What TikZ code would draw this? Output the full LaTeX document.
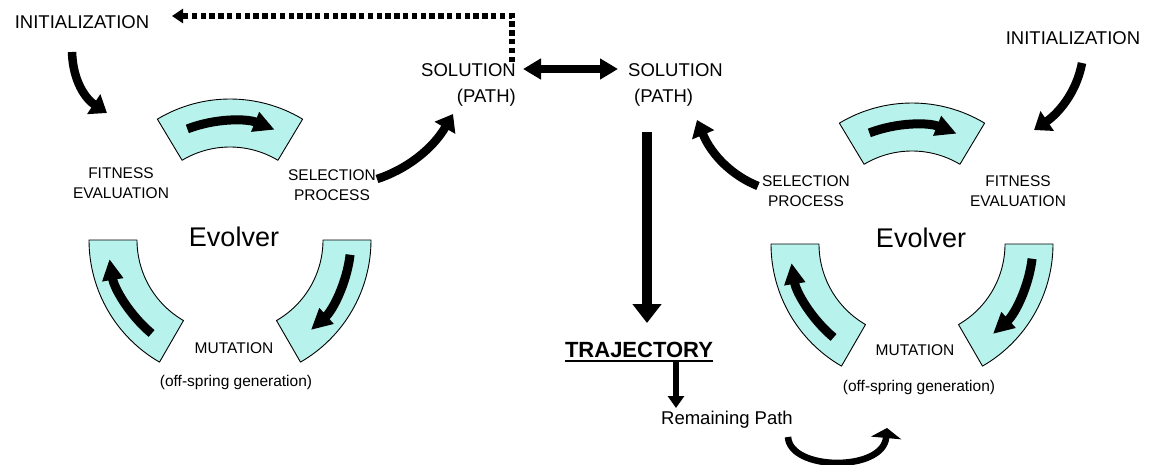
\documentclass[tikz,border=0pt]{standalone}
\usepackage{fontspec}
\setmainfont{Liberation Sans}
\usetikzlibrary{arrows.meta,calc}
\definecolor{segfill}{RGB}{183,243,236}
\newcommand\evoseg[3]{\draw[seg] ($(#1)+(#2:141)$) arc[start angle=#2,end angle=#3,radius=141] -- ($(#1)+(#3:93)$) arc[start angle=#3,end angle=#2,radius=93] -- cycle;}
\begin{document}
\begin{tikzpicture}[x=1pt,y=-1pt,
  txt/.style={inner sep=0pt, font=\fontsize{18.5}{26}\selectfont},
  small/.style={inner sep=0pt, align=center, font=\fontsize{15.5}{20}\selectfont},
  evo/.style={inner sep=0pt, anchor=base, font=\fontsize{27}{32}\selectfont},
  seg/.style={draw=black, line width=0.9pt, fill=segfill, line join=round},
  blk/.style={line width=8.5pt, -{Triangle[length=16pt,width=23pt]}},
  inarr/.style={line width=9pt, -{Triangle[length=21pt,width=20pt]}},
  dots/.style={line width=5.5pt, dash pattern=on 5.5pt off 3.3pt, -{Triangle[length=11pt,width=14pt]}},
  dbl/.style={line width=8pt, {Triangle[length=18pt,width=20pt]}-{Triangle[length=18pt,width=20pt]}},
 ]
\useasboundingbox (0,0) rectangle (1152,464);
% evolver centres
\coordinate (cL) at (230,240);
\coordinate (cR) at (912,244);
% segments
\evoseg{cL}{-121}{-59}
\evoseg{cL}{120}{180}
\evoseg{cL}{0}{60}
\evoseg{cR}{-121}{-59}
\evoseg{cR}{120}{180}
\evoseg{cR}{0}{60}
% arrows inside segments
\draw[inarr] ($(cL)+(-111:119)$) arc[start angle=-111,end angle=-68,radius=119];
\draw[inarr] ($(cL)+(130:122)$) arc[start angle=130,end angle=171,radius=122];
\draw[inarr] ($(cL)+(7:121)$) arc[start angle=7,end angle=48,radius=121];
\draw[inarr] ($(cR)+(-111:119)$) arc[start angle=-111,end angle=-68,radius=119];
\draw[inarr] ($(cR)+(130:122)$) arc[start angle=130,end angle=171,radius=122];
\draw[inarr] ($(cR)+(7:121)$) arc[start angle=7,end angle=48,radius=121];
% texts
\node[txt] (init1) at (82,22) {INITIALIZATION};
\node[txt] (init2) at (1073,38) {INITIALIZATION};
\node[txt, align=right, anchor=east] (sol1) at (516,85) {SOLUTION\\(PATH)};
\node[txt, align=left, anchor=west] (sol2) at (628,85) {SOLUTION\\\hspace*{6pt}(PATH)};
\node[small] (fit1) at (121,183) {FITNESS\\EVALUATION};
\node[small] (sel1) at (332,185) {SELECTION\\PROCESS};
\node[small] (sel2) at (806,191) {SELECTION\\PROCESS};
\node[small] (fit2) at (1018,191) {FITNESS\\EVALUATION};
\node[evo] (evoL) at (234,246) {Evolver};
\node[evo] (evoR) at (921,247) {Evolver};
\node[small, anchor=base] (mutL) at (234,353) {MUTATION};
\node[small, anchor=base] (mutR) at (915,355) {MUTATION};
\node[small, anchor=base] (offL) at (236,386) {(off-spring generation)};
\node[small, anchor=base] (offR) at (919,391) {(off-spring generation)};
\node[inner sep=0pt, anchor=base, font=\fontsize{22}{26}\selectfont\bfseries] (traj) at (639,357) {TRAJECTORY};
\node[txt, anchor=base] (rem) at (727,424) {Remaining Path};
% underline of TRAJECTORY
\draw[line width=2.5pt] ([yshift=-4pt]traj.base west) -- ([yshift=-4pt]traj.base east);
% connector end points
\coordinate (dS) at (512,62);
\coordinate (dC) at (512,16);
\coordinate (dE) at (172,16);
\coordinate (dbA) at (523,69);
\coordinate (dbB) at (618,69);
\coordinate (iLa) at (72,52);
\coordinate (iLb) at (107,113);
\coordinate (iRa) at (1082,63);
\coordinate (iRb) at (1034,130);
\coordinate (sLa) at (377,179);
\coordinate (sLb) at (453,114);
\coordinate (sRa) at (758,186);
\coordinate (sRb) at (697,120);
\coordinate (vA) at (647,132);
\coordinate (vB) at (647,323);
\coordinate (tA) at (676,361);
\coordinate (tB) at (676,408);
\coordinate (uA) at (788,437);
\coordinate (uB) at (887,428);
% connectors
\draw[dots] (dS) -- (dC) -- (dE);
\draw[dbl] (dbA) -- (dbB);
\draw[blk] (iLa) .. controls (73,82) and (86,99) .. (iLb);
\draw[blk] (iRa) .. controls (1076,95) and (1056,115) .. (iRb);
\draw[blk] (sLa) .. controls (405,170) and (432,150) .. (sLb);
\draw[blk] (sRa) .. controls (733,176) and (712,156) .. (sRb);
\draw[line width=10pt, -{Triangle[length=19pt,width=28pt]}] (vA) -- (vB);
\draw[line width=6pt, -{Triangle[length=12pt,width=16pt]}] (tA) -- (tB);
\draw[line width=6.5pt, -{Triangle[length=10pt,width=30pt]}] (uA) .. controls (790,471) and (883,472) .. (uB);
\end{tikzpicture}
\end{document}
